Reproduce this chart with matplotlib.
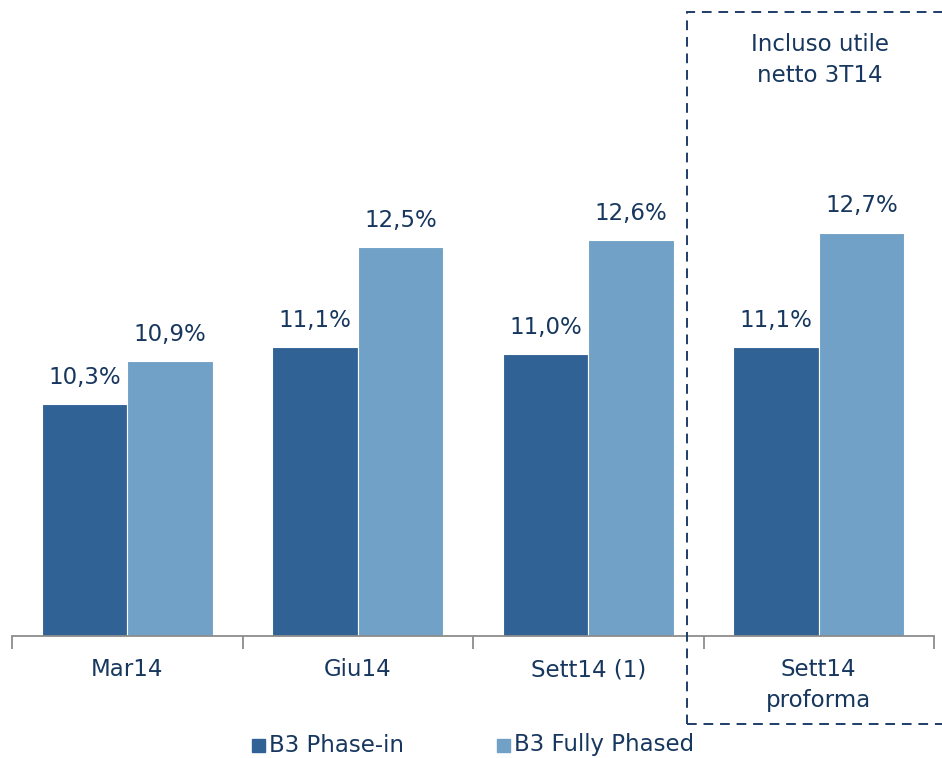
import matplotlib
matplotlib.use("Agg")
import matplotlib.pyplot as plt
import numpy as np
from matplotlib.patches import Rectangle

categories = ["Mar14", "Giu14", "Sett14 (1)", "Sett14\nproforma"]
phase_in = [10.3, 11.1, 11.0, 11.1]
fully_phased = [10.9, 12.5, 12.6, 12.7]
series_names = ["B3 Phase-in", "B3 Fully Phased"]

DARK = "#316296"
LIGHT = "#71A1C6"
TEXT = "#17375E"
AXIS = "#8C8C8C"
FS = 16.5

W, H = 942, 758
fig = plt.figure(figsize=(W / 100, H / 100), dpi=100)
ax = fig.add_axes([12 / W, (H - 636) / H, (934 - 12) / W, 636 / H])

x = np.arange(len(categories))
bw = 0.37
b1 = ax.bar(x - bw / 2, phase_in, bw, color=DARK, edgecolor="white", linewidth=0.8)
b2 = ax.bar(x + bw / 2, fully_phased, bw, color=LIGHT, edgecolor="white", linewidth=0.8)

for bars, vals in ((b1, phase_in), (b2, fully_phased)):
    for r, v in zip(bars, vals):
        ax.annotate(f"{v:.1f}%".replace(".", ","),
                    (r.get_x() + r.get_width() / 2, v),
                    xytext=(0, 11), textcoords="offset points",
                    ha="center", va="bottom", fontsize=FS, color=TEXT)

ax.set_xlim(-0.5, len(categories) - 0.5)
ax.set_ylim(7.05, 15.96)
ax.set_yticks([])
for s in ("top", "right", "left"):
    ax.spines[s].set_visible(False)
ax.spines["bottom"].set_color(AXIS)
ax.spines["bottom"].set_linewidth(1.3)

# tick marks at category boundaries, labels at category centres
ax.set_xticks(np.arange(len(categories) + 1) - 0.5)
ax.set_xticklabels([])
ax.tick_params(axis="x", direction="out", length=9, width=1.3, color=AXIS)
for i, c in enumerate(categories):
    ax.text(i, -0.035, c, transform=ax.get_xaxis_transform(), ha="center",
            va="top", fontsize=FS, color=TEXT, linespacing=1.45)

# dashed frame around the pro-forma column
fig.patches.append(Rectangle((687 / W, (H - 724) / H), (W + 10 - 687) / W, (724 - 12) / H,
                             transform=fig.transFigure, fill=False,
                             edgecolor="#1F3D6B", linestyle=(0, (5, 3.5)), linewidth=1.4))
fig.text(820 / W, 1 - 60 / H, "Incluso utile\nnetto 3T14", ha="center", va="center",
         fontsize=FS, color=TEXT, linespacing=1.45)

# legend
for px, col, name in ((252, DARK, series_names[0]), (497, LIGHT, series_names[1])):
    fig.patches.append(Rectangle((px / W, (H - 752) / H), 13 / W, 13 / H,
                                 transform=fig.transFigure, color=col))
    fig.text((px + 17) / W, 1 - 745 / H, name, ha="left", va="center",
             fontsize=FS, color=TEXT)

fig.savefig("out.png", dpi=100)
